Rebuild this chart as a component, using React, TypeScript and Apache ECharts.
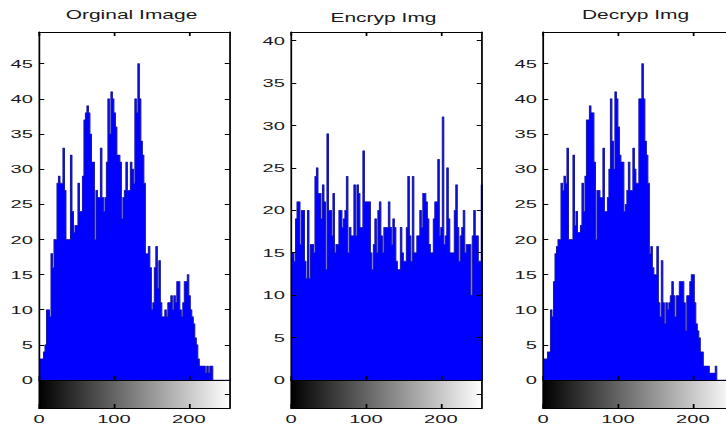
import React, { useEffect, useRef } from "react";
import * as echarts from "echarts";

// ---------- data ----------
const TITLES = ["Orginal Image", "Encryp Img", "Decryp Img"];
const BIN_WIDTH = 2; // gray levels per histogram bin
const X_MAX = 255;
const X_TICKS = [0, 100, 200];

// counts per 2-level bin, starting at gray level 0
const ORIGINAL_COUNTS = [
  3, 3, 3, 4, 5, 10, 10, 9, 18, 16, 20, 20, 28, 29, 28, 28,
  33, 27, 20, 20, 20, 32, 24, 21, 22, 22, 28, 24, 24, 29, 37, 38,
  39, 38, 35, 31, 31, 20, 27, 26, 26, 33, 26, 24, 26, 31, 40, 35,
  41, 40, 38, 36, 32, 32, 31, 23, 26, 27, 31, 27, 27, 31, 30, 28,
  40, 38, 45, 40, 34, 32, 28, 18, 18, 19, 16, 10, 11, 16, 19, 13,
  17, 11, 9, 9, 10, 9, 11, 11, 12, 10, 12, 11, 14, 14, 10, 9,
  11, 14, 14, 15, 12, 10, 9, 8, 6, 5, 3, 2, 2, 2, 2, 1,
  2, 1, 2, 2, 0, 0, 0, 0, 0, 0, 0, 0, 0, 0, 0, 0,
];

const ENCRYPTED_COUNTS = [
  15, 15, 14, 19, 21, 21, 16, 20, 20, 14, 12, 20, 12, 16, 16, 15,
  24, 25, 22, 22, 19, 23, 21, 13, 29, 20, 20, 17, 22, 15, 16, 16,
  20, 20, 18, 19, 20, 24, 15, 18, 17, 17, 23, 17, 23, 22, 18, 18,
  27, 21, 21, 21, 21, 15, 13, 16, 19, 15, 20, 21, 17, 15, 18, 18,
  18, 21, 18, 16, 19, 18, 14, 13, 13, 18, 15, 14, 14, 18, 24, 17,
  14, 24, 15, 15, 17, 17, 20, 18, 22, 22, 21, 19, 16, 15, 15, 19,
  21, 21, 26, 17, 18, 31, 16, 17, 25, 19, 15, 15, 15, 20, 23, 18,
  14, 17, 18, 20, 15, 16, 16, 16, 10, 17, 20, 17, 17, 14, 14, 23,
];

const DECRYPTED_COUNTS = [
  3, 3, 3, 4, 4, 10, 9, 14, 18, 19, 20, 20, 28, 27, 29, 28,
  33, 20, 20, 20, 32, 22, 24, 21, 21, 22, 28, 24, 29, 37, 37, 39,
  38, 38, 31, 20, 27, 27, 26, 26, 33, 24, 24, 26, 30, 40, 34, 30,
  41, 40, 36, 32, 31, 31, 24, 25, 27, 31, 27, 27, 33, 30, 28, 28,
  40, 40, 45, 40, 34, 32, 28, 18, 19, 16, 15, 15, 19, 11, 9, 17,
  11, 8, 11, 10, 11, 12, 14, 12, 9, 12, 12, 14, 14, 14, 11, 7,
  12, 12, 14, 15, 15, 11, 8, 7, 6, 4, 4, 2, 2, 2, 2, 1,
  1, 1, 1, 2, 0, 0, 0, 0, 0, 0, 0, 0, 0, 0, 0, 0,
];

const Y_TICKS_ORIGINAL = [0, 5, 10, 15, 20, 25, 30, 35, 40, 45];
const Y_TICKS_ENCRYPTED = [0, 5, 10, 15, 20, 25, 30, 35, 40];
const Y_TICKS_DECRYPTED = [0, 5, 10, 15, 20, 25, 30, 35, 40, 45];
const Y_MAX = [49.5, 41, 49.5];

// ---------- layout (final pixel coords; chart is drawn compressed then stretched horizontally) ----------
const FULL_W = 726;
const FULL_H = 426;
const INNER_W = 415;
const SX = FULL_W / INNER_W;
const PANEL_LEFT = [39, 291, 543];
const PANEL_W = 191;
const TOP = 32;
const HIST_H = 348;
const BAR_H = 28;
const TITLE_TOP = [9, 12, 9];
const FONT = "'Liberation Sans', Arial, Helvetica, sans-serif";
const TEXT_COLOR = "#1a1a1a";

export default function App() {
  const ref = useRef<HTMLDivElement>(null);

  useEffect(() => {
    if (!ref.current) return;
    const chart = echarts.init(ref.current, null, { renderer: "svg" });

    const panels = [
      { counts: ORIGINAL_COUNTS, yTicks: Y_TICKS_ORIGINAL },
      { counts: ENCRYPTED_COUNTS, yTicks: Y_TICKS_ENCRYPTED },
      { counts: DECRYPTED_COUNTS, yTicks: Y_TICKS_DECRYPTED },
    ];

    const grids: any[] = [];
    const xAxes: any[] = [];
    const yAxes: any[] = [];
    const series: any[] = [];
    const titles: any[] = [];

    const axisLine = { show: true, onZero: false, lineStyle: { color: "#000", width: 1 } };
    const labelStyle = { fontFamily: FONT, fontSize: 11.5, color: TEXT_COLOR };

    panels.forEach((panel, p) => {
      const left = PANEL_LEFT[p] / SX;
      const width = PANEL_W / SX;

      titles.push({
        text: TITLES[p],
        left: (PANEL_LEFT[p] + PANEL_W / 2 - 3) / SX,
        top: TITLE_TOP[p],
        textAlign: "center",
        padding: 0,
        textStyle: { fontFamily: FONT, fontSize: 12, fontWeight: "normal", color: TEXT_COLOR },
      });

      const gH = grids.length;
      grids.push({ left, top: TOP, width, height: HIST_H, outerBoundsMode: "none", containLabel: false });
      const gC = grids.length;
      grids.push({ left, top: TOP + HIST_H, width, height: BAR_H, outerBoundsMode: "none", containLabel: false });

      const xb = xAxes.length;
      xAxes.push({
        type: "value", gridIndex: gH, position: "bottom", min: 0, max: X_MAX,
        axisLine, z: 10,
        axisTick: { show: true, inside: true, length: 4, customValues: X_TICKS, lineStyle: { color: "#000" } },
        axisLabel: { show: false }, splitLine: { show: false },
      });
      xAxes.push({
        type: "value", gridIndex: gH, position: "top", min: 0, max: X_MAX,
        axisLine, z: 10,
        axisTick: { show: true, inside: true, length: 4, customValues: X_TICKS, lineStyle: { color: "#000" } },
        axisLabel: { show: false }, splitLine: { show: false },
      });
      const xc = xAxes.length;
      xAxes.push({
        type: "value", gridIndex: gC, position: "bottom", min: 0, max: X_MAX,
        axisLine, z: 10,
        axisTick: { show: true, inside: true, length: 4, customValues: X_TICKS, lineStyle: { color: "#000" } },
        axisLabel: { show: true, customValues: X_TICKS, margin: 5, ...labelStyle },
        splitLine: { show: false },
      });

      const yl = yAxes.length;
      yAxes.push({
        type: "value", gridIndex: gH, position: "left", min: 0, max: Y_MAX[p],
        axisLine, z: 10,
        axisTick: { show: true, inside: true, length: 3, customValues: panel.yTicks, lineStyle: { color: "#000" } },
        axisLabel: { show: true, customValues: panel.yTicks, margin: 3.5, ...labelStyle },
        splitLine: { show: false },
      });
      yAxes.push({
        type: "value", gridIndex: gH, position: "right", min: 0, max: Y_MAX[p],
        axisLine, z: 10,
        axisTick: { show: true, inside: true, length: 3, customValues: panel.yTicks, lineStyle: { color: "#000" } },
        axisLabel: { show: false }, splitLine: { show: false },
      });
      const yc = yAxes.length;
      yAxes.push({
        type: "value", gridIndex: gC, position: "left", min: 0, max: 1,
        axisLine, z: 10, axisTick: { show: false }, axisLabel: { show: false }, splitLine: { show: false },
      });
      yAxes.push({
        type: "value", gridIndex: gC, position: "right", min: 0, max: 1,
        axisLine, z: 10,
        axisTick: { show: true, inside: true, length: 3, customValues: [0.5], lineStyle: { color: "#000" } },
        axisLabel: { show: false }, splitLine: { show: false },
      });

      const data = panel.counts.map((v, i) => [i * BIN_WIDTH, v]);
      data.push([panel.counts.length * BIN_WIDTH, panel.counts[panel.counts.length - 1]]);

      series.push({
        type: "line",
        xAxisIndex: xb,
        yAxisIndex: yl,
        data,
        step: "end",
        symbol: "none",
        clip: true,
        lineStyle: { color: "#1a1aa8", width: 0.6 },
        areaStyle: { color: "#0000ff", opacity: 1, origin: "start" },
        z: 3,
      });

      series.push({
        type: "custom",
        xAxisIndex: xc,
        yAxisIndex: yc,
        data: [[0, 1]],
        z: 2,
        renderItem: (_params: any, api: any) => {
          const p0 = api.coord([0, 1]);
          const p1 = api.coord([X_MAX, 0]);
          return {
            type: "rect",
            shape: { x: p0[0], y: p0[1], width: p1[0] - p0[0], height: p1[1] - p0[1] },
            style: {
              fill: new echarts.graphic.LinearGradient(0, 0, 1, 0, [
                { offset: 0, color: "#000000" },
                { offset: 1, color: "#ffffff" },
              ]),
            },
          };
        },
      });
    });

    chart.setOption({
      animation: false,
      backgroundColor: "#ffffff",
      title: titles,
      grid: grids,
      xAxis: xAxes,
      yAxis: yAxes,
      series,
    });

    return () => chart.dispose();
  }, []);

  return (
    <div
      style={{
        position: "fixed",
        left: 0,
        top: 0,
        width: FULL_W,
        height: FULL_H,
        overflow: "hidden",
        background: "#fff",
      }}
    >
      <div
        ref={ref}
        style={{
          width: INNER_W,
          height: FULL_H,
          transform: `scaleX(${SX})`,
          transformOrigin: "0 0",
        }}
      />
    </div>
  );
}
